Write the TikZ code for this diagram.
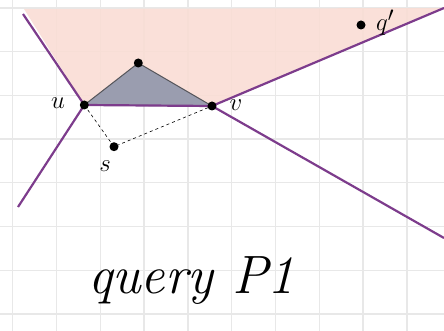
\documentclass[tikz,border=0pt]{standalone}
\usepackage{xcolor}
\usepackage{tikz}
\usetikzlibrary{calc}
\definecolor{gridline}{RGB}{232,232,232}
\definecolor{cone}{RGB}{249,221,213}
\definecolor{tri}{RGB}{154,157,175}
\definecolor{triedge}{RGB}{85,85,90}
\definecolor{bis}{RGB}{125,60,140}
\tikzset{
  dot/.style={circle, fill=black, inner sep=0pt, minimum size=9pt},
  bisline/.style={draw=bis, line width=2.2pt},
  dashlink/.style={draw=black, dashed, line width=0.6pt},
  ptlbl/.style={font=\fontsize{28}{28}\selectfont, inner sep=0pt},
}
\begin{document}
\begin{tikzpicture}[x=1pt,y=-1pt]
  \useasboundingbox (0,0) rectangle (444,331);

  % grid
  \foreach \gx in {12.7,56.5,...,444} \draw[gridline, line width=1.4pt] (\gx,0) -- (\gx,331);
  \foreach \gy in {8,51.7,...,331} \draw[gridline, line width=1.4pt] (0,\gy) -- (444,\gy);

  % points
  \coordinate (u) at (84.3,105);
  \coordinate (v) at (212,106);
  \coordinate (w) at (138.3,63);
  \coordinate (s) at (114,146.7);
  \coordinate (q) at (361,25);
  \coordinate (ul) at (23,14);
  \coordinate (ud) at (18,207);
  \coordinate (vu) at (444,8);
  \coordinate (vd) at (444,238);
  \coordinate (tl) at (24,9);

  % cone above the triangle
  \fill[cone, fill opacity=0.9] (tl) -- (vu) -- (v) -- (u) -- cycle;

  % triangle
  \filldraw[fill=tri, draw=triedge, line width=1pt] (u) -- (w) -- (v) -- cycle;

  % bisector lines
  \draw[bisline] (ul) -- (u) -- (ud);
  \draw[bisline] (vu) -- (v) -- (vd);
  \draw[bisline] (u) -- (v);

  % s links
  \draw[dashlink] (u) -- (s) -- (v);

  \node[dot] (udot) at (u) {};
  \node[dot] (vdot) at (v) {};
  \node[dot] (wdot) at (w) {};
  \node[dot] (sdot) at (s) {};
  \node[dot] (qdot) at (q) {};

  \node[ptlbl] (ulbl) at (58,103) {$u$};
  \node[ptlbl] (vlbl) at (236,105) {$v$};
  \node[ptlbl] (slbl) at (105,166) {$s$};
  \node[ptlbl] (qlbl) at (385,23) {$q'$};

  \node[anchor=base west, inner sep=0pt, font=\fontsize{54}{54}\selectfont\itshape] (title) at (88,293) {query P1};
\end{tikzpicture}
\end{document}
